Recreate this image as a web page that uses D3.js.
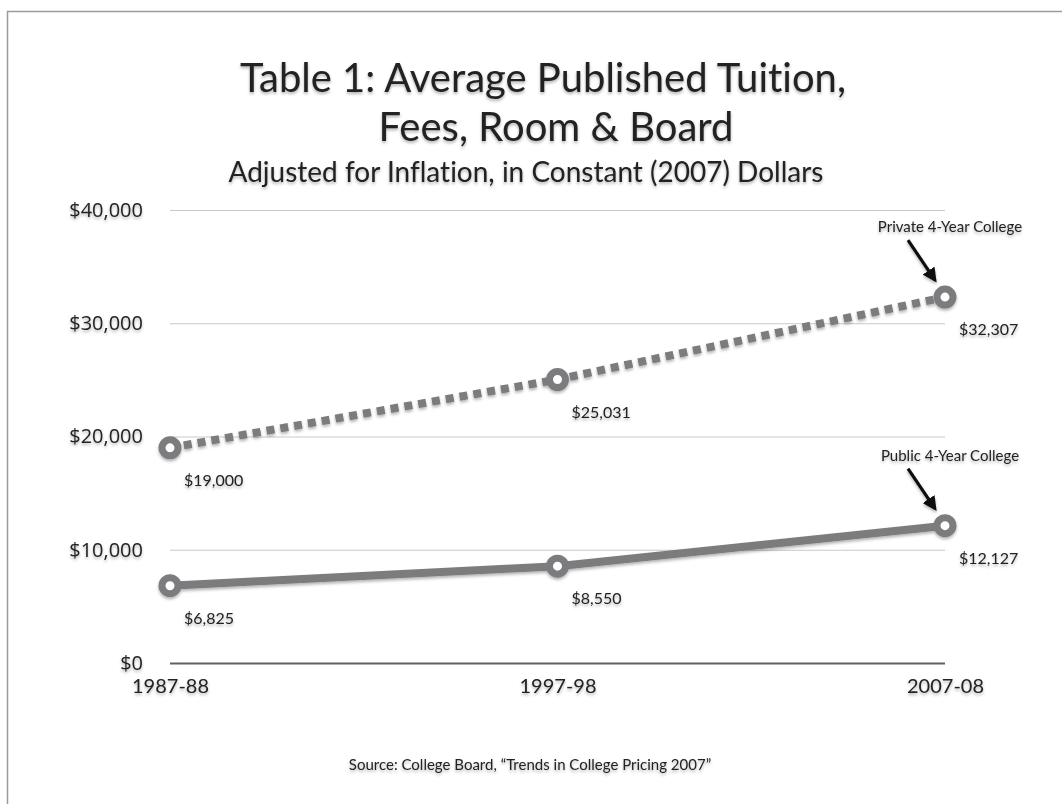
<!DOCTYPE html>
<html>
<head>
<meta charset="utf-8">
<script src="https://cdn.jsdelivr.net/npm/d3@7"></script>
<style>
  body { margin: 0; background: #fff; }
  svg { display: block; }
  text { font-variant-ligatures: none; }
</style>
</head>
<body>
<div id="chart"></div>
<script>
// data
const years = ["1987-88", "1997-98", "2007-08"];
const privateCost = [19000, 25031, 32307];
const publicCost = [6825, 8550, 12127];
const seriesNames = ["Private 4-Year College", "Public 4-Year College"];
const yTicks = [0, 10000, 20000, 30000, 40000];
const titleLines = ["Table 1:  Average Published Tuition,", "Fees, Room & Board"];

const width = 1062, height = 804;
const lineGray = "#7b7b7e";

const svg = d3.select("#chart").append("svg")
  .attr("width", width)
  .attr("height", height);

const defs = svg.append("defs");
const shadow = defs.append("filter").attr("id", "shadow")
  .attr("x", "-20%").attr("y", "-20%").attr("width", "140%").attr("height", "160%");
shadow.append("feDropShadow")
  .attr("dx", 0).attr("dy", 2).attr("stdDeviation", 1.6)
  .attr("flood-color", "#000").attr("flood-opacity", 0.3);

defs.append("marker").attr("id", "arrow")
  .attr("viewBox", "0 0 10 10").attr("refX", 8).attr("refY", 5)
  .attr("markerWidth", 4.5).attr("markerHeight", 4.5)
  .attr("orient", "auto")
  .append("path").attr("d", "M0,0 L10,5 L0,10 Z").attr("fill", "#111");

// slide frame
svg.append("path")
  .attr("d", "M7.5,804 V11.5 H1062")
  .attr("fill", "none").attr("stroke", "#9a9a9a").attr("stroke-width", 1.5);

const x = d3.scalePoint().domain(years).range([170, 945]);
const y = d3.scaleLinear().domain([0, 40000]).range([663, 210]);

const titleFont = "Lato, 'Open Sans', sans-serif";
const titleG = svg.append("g").attr("filter", "url(#shadow)")
  .attr("fill", "#222").style("font-family", titleFont)
  .attr("text-anchor", "middle");

titleG.append("text").attr("x", 543).attr("y", 92)
  .style("font-size", "40px").text(titleLines[0]);
titleG.append("text").attr("x", 556).attr("y", 141)
  .style("font-size", "40px").text(titleLines[1]);

titleG.append("text").attr("x", 526).attr("y", 182)
  .style("font-size", "28px")
  .text("Adjusted for Inflation, in Constant (2007) Dollars");

// y axis with gridlines
const yAxis = svg.append("g")
  .attr("transform", "translate(170,0)")
  .call(d3.axisLeft(y).tickValues(yTicks)
    .tickSize(-(945 - 170)).tickPadding(27)
    .tickFormat(d => "$" + d3.format(",")(d)));
yAxis.select(".domain").remove();
yAxis.selectAll(".tick line")
  .attr("stroke", d => d === 0 ? "#606060" : "#c9c9c9")
  .attr("stroke-width", d => d === 0 ? 2 : 1);
yAxis.selectAll(".tick text")
  .attr("fill", "#222")
  .style("font-family", "'Open Sans', sans-serif")
  .style("font-size", "20px")
  .attr("filter", "url(#shadow)");

// x axis
const xAxis = svg.append("g")
  .attr("transform", "translate(0,663)")
  .call(d3.axisBottom(x).tickSize(0).tickPadding(16));
xAxis.select(".domain").remove();
xAxis.selectAll(".tick text")
  .attr("fill", "#222")
  .style("font-family", titleFont)
  .style("font-size", "20px")
  .attr("filter", "url(#shadow)");

const series = [
  { name: seriesNames[0], values: privateCost, dash: "8,6" },
  { name: seriesNames[1], values: publicCost, dash: null }
];

const line = d3.line()
  .x((d, i) => x(years[i]))
  .y(d => y(d));

const plot = svg.append("g");

series.forEach(s => {
  const g = plot.append("g").attr("filter", "url(#shadow)");
  g.append("path")
    .attr("d", line(s.values))
    .attr("fill", "none")
    .attr("stroke", lineGray)
    .attr("stroke-width", 8)
    .attr("stroke-dasharray", s.dash);

  g.selectAll("circle")
    .data(s.values)
    .enter()
    .append("circle")
    .attr("cx", (d, i) => x(years[i]))
    .attr("cy", d => y(d))
    .attr("r", 8)
    .attr("fill", "#fff")
    .attr("stroke", lineGray)
    .attr("stroke-width", 7);

  g.selectAll("text.val")
    .data(s.values)
    .enter()
    .append("text")
    .attr("class", "val")
    .attr("x", (d, i) => x(years[i]) + 14)
    .attr("y", d => y(d) + 38)
    .attr("fill", "#222")
    .style("font-family", titleFont)
    .style("font-size", "16px")
    .text(d => "$" + d3.format(",")(d));

  // annotation at last point
  const last = s.values[s.values.length - 1];
  const px = x(years[years.length - 1]), py = y(last);
  const ag = svg.append("g").attr("filter", "url(#shadow)");
  ag.append("line")
    .attr("x1", px - 37).attr("y1", py - 57)
    .attr("x2", px - 10).attr("y2", py - 17)
    .attr("stroke", "#111").attr("stroke-width", 3.2)
    .attr("marker-end", "url(#arrow)");
  ag.append("text")
    .attr("x", px + 5).attr("y", py - 65)
    .attr("text-anchor", "middle")
    .attr("fill", "#222")
    .style("font-family", titleFont)
    .style("font-size", "15px")
    .text(s.name);
});

svg.append("text")
  .attr("x", 530).attr("y", 770)
  .attr("text-anchor", "middle")
  .attr("fill", "#222")
  .attr("filter", "url(#shadow)")
  .style("font-family", titleFont)
  .style("font-size", "15px")
  .text("Source: College Board, \u201cTrends in College Pricing 2007\u201d");
</script>
</body>
</html>
